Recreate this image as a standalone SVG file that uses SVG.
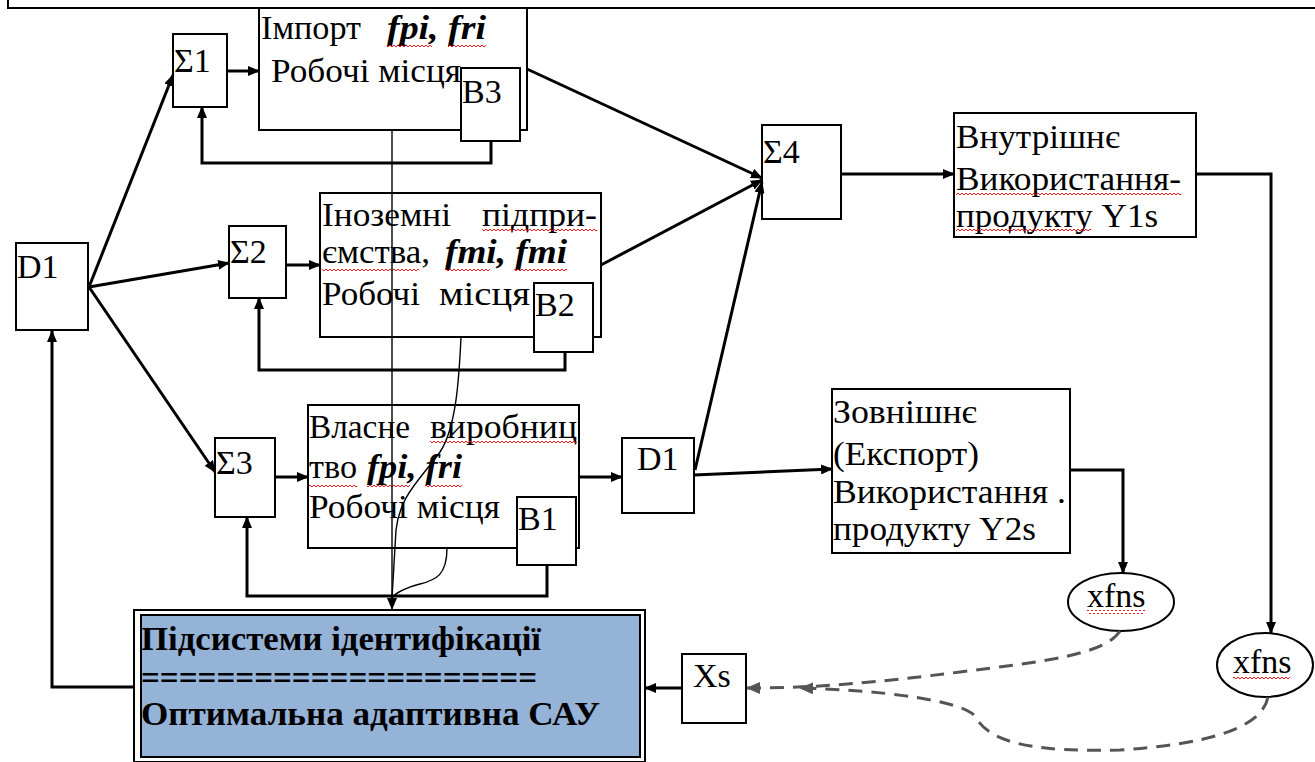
<svg xmlns="http://www.w3.org/2000/svg" width="1315" height="762" viewBox="0 0 1315 762">
<style>
text{font-family:'Liberation Serif','Times New Roman','DejaVu Serif',serif;font-size:34px;fill:#000}
.bi{font-weight:bold;font-style:italic}
.b{font-weight:bold}
.box{fill:#fff;stroke:#000;stroke-width:2}
.con{fill:none;stroke:#000;stroke-width:3}
.thin{fill:none;stroke:#000;stroke-width:1.4}
.dash{fill:none;stroke:#555;stroke-width:3;stroke-dasharray:14 9}
.sq{fill:url(#sq)}
</style>
<defs>
<marker id="ah" viewBox="0 0 12 10" refX="11" refY="5" markerWidth="12" markerHeight="10" markerUnits="userSpaceOnUse" orient="auto"><path d="M0,0 L12,5 L0,10 z" fill="#000"/></marker>
<marker id="ahg" viewBox="0 0 14 12" refX="13" refY="6" markerWidth="14" markerHeight="12" markerUnits="userSpaceOnUse" orient="auto"><path d="M0,0 L14,6 L0,12 z" fill="#555"/></marker>
<pattern id="sq" width="4" height="4" patternUnits="userSpaceOnUse"><path d="M0,3 L2,1 L4,3" fill="none" stroke="#e00" stroke-width="0.9"/></pattern>
</defs>
<rect x="8" y="-20" width="1330" height="28" fill="#fff" stroke="#000" stroke-width="2"/>
<g id="import"><rect class="box" x="259" y="8" width="268" height="122"/><text x="261" y="39" textLength="100" lengthAdjust="spacingAndGlyphs">Імпорт</text><text class="bi" x="387" y="39" textLength="99" lengthAdjust="spacingAndGlyphs">fpi, fri</text><text x="271" y="82" textLength="190" lengthAdjust="spacingAndGlyphs">Робочі місця</text><rect class="sq" x="387" y="45" width="45" height="4"/><rect class="sq" x="448" y="45" width="38" height="4"/></g>
<g id="b3"><rect class="box" x="461" y="68" width="59" height="73"/><text x="462" y="103">В3</text></g>
<g id="inozemni"><rect class="box" x="320" y="193" width="281" height="144"/><text x="322" y="226" textLength="129" lengthAdjust="spacingAndGlyphs">Іноземні</text><text x="482" y="226" textLength="115" lengthAdjust="spacingAndGlyphs">підпри-</text><text x="322" y="263" textLength="108" lengthAdjust="spacingAndGlyphs">ємства,</text><text class="bi" x="445" y="263" textLength="122" lengthAdjust="spacingAndGlyphs">fmi, fmi</text><text x="322" y="305" textLength="98" lengthAdjust="spacingAndGlyphs">Робочі</text><text x="439" y="305" textLength="91" lengthAdjust="spacingAndGlyphs">місця</text><rect class="sq" x="482" y="228" width="115" height="4"/><rect class="sq" x="322" y="267" width="97" height="4"/><rect class="sq" x="445" y="267" width="45" height="4"/><rect class="sq" x="514" y="267" width="53" height="4"/></g>
<g id="b2"><rect class="box" x="534" y="283" width="59" height="69"/><text x="535" y="316">В2</text></g>
<g id="vlasne"><rect class="box" x="308" y="405" width="271" height="143"/><text x="309" y="438" textLength="101" lengthAdjust="spacingAndGlyphs">Власне</text><text x="430" y="438" textLength="147" lengthAdjust="spacingAndGlyphs">виробниц</text><text x="309" y="478" textLength="48" lengthAdjust="spacingAndGlyphs">тво</text><text class="bi" x="367" y="478" textLength="95" lengthAdjust="spacingAndGlyphs">fpi, fri</text><text x="309" y="518" textLength="191" lengthAdjust="spacingAndGlyphs">Робочі місця</text><rect class="sq" x="430" y="441" width="147" height="4"/><rect class="sq" x="309" y="485" width="48" height="4"/><rect class="sq" x="367" y="485" width="43" height="4"/><rect class="sq" x="425" y="485" width="37" height="4"/></g>
<g id="b1"><rect class="box" x="517" y="497" width="59" height="68"/><text x="518" y="530">В1</text></g>
<g id="s1"><rect class="box" x="173" y="34" width="54" height="73"/><text x="174" y="72">Σ1</text></g>
<g id="s2"><rect class="box" x="229" y="226" width="57" height="72"/><text x="230" y="263">Σ2</text></g>
<g id="s3"><rect class="box" x="215" y="438" width="60" height="79"/><text x="216" y="474">Σ3</text></g>
<g id="s4"><rect class="box" x="762" y="125" width="79" height="94"/><text x="763" y="163">Σ4</text></g>
<g id="d1"><rect class="box" x="16" y="243" width="72" height="87"/><text x="17" y="278">D1</text></g>
<g id="d1b"><rect class="box" x="622" y="438" width="72" height="75"/><text x="637" y="470">D1</text></g>
<g id="y1s"><rect class="box" x="954" y="113" width="242" height="124"/><text x="956" y="148" textLength="164" lengthAdjust="spacingAndGlyphs">Внутрішнє</text><text x="956" y="190" textLength="225" lengthAdjust="spacingAndGlyphs">Використання-</text><text x="956" y="227" textLength="202" lengthAdjust="spacingAndGlyphs">продукту Y1s</text><rect class="sq" x="956" y="193" width="225" height="4"/><rect class="sq" x="956" y="229" width="135" height="4"/></g>
<g id="y2s"><rect class="box" x="832" y="389" width="238" height="164"/><text x="833" y="423" textLength="144" lengthAdjust="spacingAndGlyphs">Зовнішнє</text><text x="833" y="465" textLength="146" lengthAdjust="spacingAndGlyphs">(Експорт)</text><text x="833" y="503" textLength="233" lengthAdjust="spacingAndGlyphs">Використання .</text><text x="833" y="540" textLength="203" lengthAdjust="spacingAndGlyphs">продукту Y2s</text></g>
<g id="xfns1"><ellipse cx="1121" cy="602" rx="53" ry="29" fill="#fff" stroke="#000" stroke-width="2"/><text x="1087" y="607">xfns</text><rect class="sq" x="1087" y="610" width="58" height="4"/></g>
<g id="xfns2"><ellipse cx="1265" cy="665" rx="48" ry="32" fill="#fff" stroke="#000" stroke-width="2"/><text x="1233" y="673">xfns</text><rect class="sq" x="1233" y="677" width="57" height="4"/></g>
<g id="xs"><rect class="box" x="682" y="654" width="64" height="69"/><text x="693" y="687">Xs</text></g>
<g id="sau"><rect x="134" y="610" width="511" height="152" fill="#fff" stroke="#000" stroke-width="2"/><rect x="141" y="615" width="499" height="142" fill="#95b3d7" stroke="#000" stroke-width="2"/><text class="b" x="141" y="650" textLength="400" lengthAdjust="spacingAndGlyphs">Підсистеми ідентифікації</text><text class="b" x="141" y="689" textLength="396" lengthAdjust="spacingAndGlyphs">=====================</text><text class="b" x="141" y="725" textLength="459" lengthAdjust="spacingAndGlyphs">Оптимальна адаптивна  САУ</text></g>
<g id="connectors">
<path class="con" marker-end="url(#ah)" d="M89,287 L173,75"/>
<path class="con" marker-end="url(#ah)" d="M89,287 L229,263"/>
<path class="con" marker-end="url(#ah)" d="M89,287 L215,472"/>
<path class="con" marker-end="url(#ah)" d="M227,71 L259,71"/>
<path class="con" marker-end="url(#ah)" d="M286,265 L320,265"/>
<path class="con" marker-end="url(#ah)" d="M275,477 L308,477"/>
<path class="con" marker-end="url(#ah)" d="M491,141 L491,163 L202,163 L202,107"/>
<path class="con" marker-end="url(#ah)" d="M565,352 L565,370 L259,370 L259,298"/>
<path class="con" marker-end="url(#ah)" d="M547,565 L547,596 L247,596 L247,517"/>
<path class="con" marker-end="url(#ah)" d="M527,69 L762,178"/>
<path class="con" marker-end="url(#ah)" d="M601,265 L762,180"/>
<path class="con" marker-end="url(#ah)" d="M695,470 L762,182"/>
<path class="con" marker-end="url(#ah)" d="M579,477 L622,477"/>
<path class="con" marker-end="url(#ah)" d="M694,475 L832,469"/>
<path class="con" marker-end="url(#ah)" d="M841,174 L954,174"/>
<path class="con" marker-end="url(#ah)" d="M1196,174 L1271,174 L1271,633"/>
<path class="con" marker-end="url(#ah)" d="M1070,470 L1123,470 L1123,573"/>
<path class="con" marker-end="url(#ah)" d="M134,687 L52,687 L52,331"/>
<path class="con" marker-end="url(#ah)" d="M682,688 L645,688"/>
<path class="thin" marker-end="url(#ah)" d="M392,130 L392,609"/>
<path class="thin" d="M461,337 C459,380 456,428 440,452 C420,480 400,495 396,530 L392,598"/>
<path class="thin" d="M447,548 C447,575 436,580 420,584 C405,588 396,592 392,598"/>
<path class="dash" marker-end="url(#ahg)" d="M1120,631 C1105,655 1040,662 960,672 C880,682 820,688 747,688"/>
<path class="dash" marker-end="url(#ahg)" d="M1268,697 C1262,730 1200,745 1120,750 C1040,752 990,745 975,716 C960,700 880,690 800,688"/>
</g>
</svg>
